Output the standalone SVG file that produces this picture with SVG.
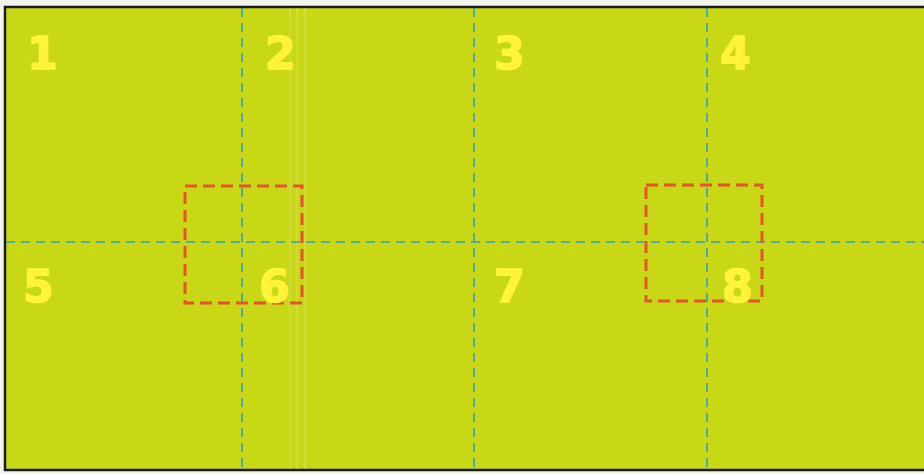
<svg xmlns="http://www.w3.org/2000/svg" width="924" height="474" viewBox="0 0 924 474">
<style>
.num{font-family:"DejaVu Sans",sans-serif;font-weight:bold;font-size:44px;fill:#fff43a;stroke:#fff43a;stroke-width:1.6}
.blue{stroke:#2f9fc4;stroke-width:1.6;stroke-dasharray:9 6;fill:none}
.red{stroke:#e5532b;stroke-width:3;stroke-dasharray:12 6;fill:none}
.fold{stroke:#d6df58;stroke-width:1;fill:none}
</style>
<rect x="0" y="0" width="924" height="474" fill="#f4f4ee"/>
<rect x="5" y="7" width="925" height="463" fill="#c9d816" stroke="#1a1a1a" stroke-width="2.5"/>
<g id="folds">
<line class="fold" x1="290" y1="8" x2="290" y2="469"/>
<line class="fold" x1="297" y1="8" x2="297" y2="469"/>
<line class="fold" x1="305" y1="8" x2="305" y2="469"/>
</g>
<g id="connectors">
<line class="blue" x1="242" y1="8" x2="242" y2="469"/>
<line class="blue" x1="474" y1="8" x2="474" y2="469"/>
<line class="blue" x1="707" y1="8" x2="707" y2="469"/>
<line class="blue" x1="6" y1="242" x2="924" y2="242"/>
</g>
<g id="box6"><rect class="red" x="185" y="186" width="117" height="117"/></g>
<g id="box8"><rect class="red" x="646" y="185" width="116" height="116"/></g>
<g id="n1"><text class="num" x="27" y="69">1</text></g>
<g id="n2"><text class="num" x="265" y="69">2</text></g>
<g id="n3"><text class="num" x="494" y="69">3</text></g>
<g id="n4"><text class="num" x="720" y="69">4</text></g>
<g id="n5"><text class="num" x="23" y="302">5</text></g>
<g id="n6"><text class="num" x="259" y="302">6</text></g>
<g id="n7"><text class="num" x="494" y="302">7</text></g>
<g id="n8"><text class="num" x="722" y="302">8</text></g>
</svg>
